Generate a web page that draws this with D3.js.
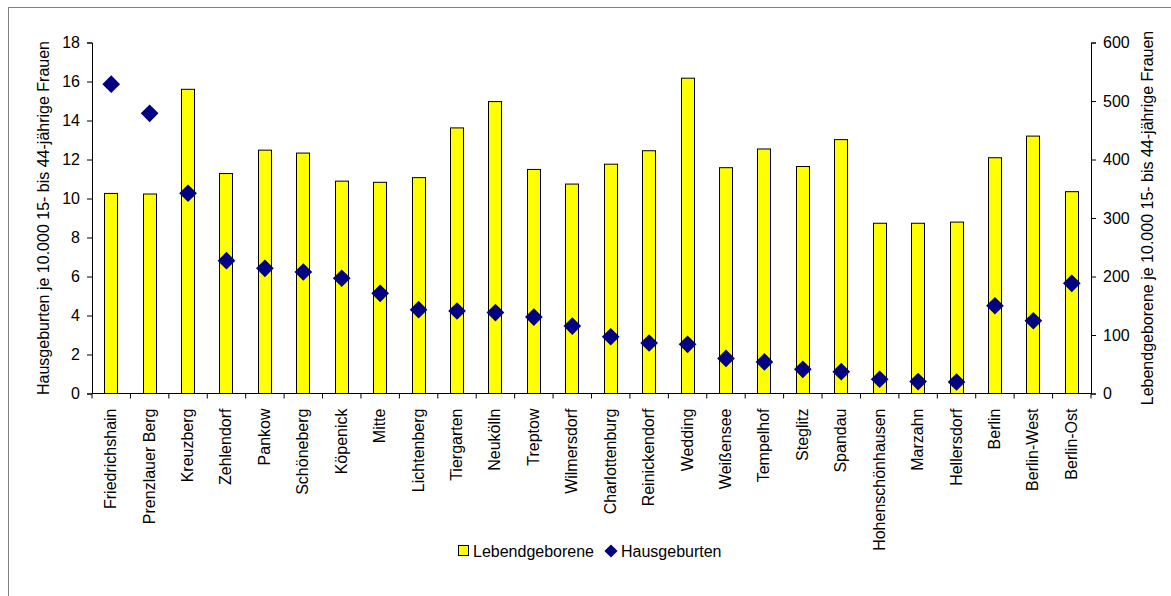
<!DOCTYPE html>
<html><head><meta charset="utf-8">
<script src="https://cdn.jsdelivr.net/npm/d3@7"></script>
<style>
html,body{margin:0;padding:0;background:#fff;}
svg{display:block;font-family:"Liberation Sans",Arial,sans-serif;}
</style></head>
<body><svg id="c" width="1171" height="596"></svg>
<script>
const categories = ["Friedrichshain","Prenzlauer Berg","Kreuzberg","Zehlendorf","Pankow","Schöneberg","Köpenick","Mitte","Lichtenberg","Tiergarten","Neukölln","Treptow","Wilmersdorf","Charlottenburg","Reinickendorf","Wedding","Weißensee","Tempelhof","Steglitz","Spandau","Hohenschönhausen","Marzahn","Hellersdorf","Berlin","Berlin-West","Berlin-Ost"];
const lebendgeborene = [342,341,520,376,416,411,363,361,369,454,499,383,358,392,415,539,386,418,388,434,291,291,293,403,440,345];
const hausgeburten = [15.86,14.37,10.27,6.81,6.42,6.23,5.91,5.14,4.30,4.23,4.15,3.92,3.46,2.91,2.59,2.52,1.80,1.62,1.24,1.12,0.73,0.61,0.59,4.50,3.73,5.65];
const leftTicks = [0,2,4,6,8,10,12,14,16,18];
const rightTicks = [0,100,200,300,400,500,600];
const seriesNames = ["Lebendgeborene","Hausgeburten"];
const leftTitle = "Hausgeburten je 10.000 15- bis 44-jährige Frauen";
const rightTitle = "Lebendgeborene je 10.000 15- bis 44-jährige Frauen";

const svg = d3.select("#c");
const FS = 16;
const L = 92, R = 1091, T = 42.5, B = 393.5;

// outer frame
svg.append("rect").attr("x",8.5).attr("y",7.5).attr("width",1200).attr("height",620)
  .attr("fill","none").attr("stroke","#808080").attr("stroke-width",1);

const x = d3.scaleBand().domain(categories).range([L,R]).padding(0);
const yL = d3.scaleLinear().domain([0,18]).range([B,T]);
const yR = d3.scaleLinear().domain([0,600]).range([B,T]);

// bars
const bw = 14;
svg.append("g").selectAll("rect").data(categories).join("rect")
  .attr("x",(d)=>Math.round(x(d)+x.bandwidth()/2-bw/2)+0.5)
  .attr("y",(d,i)=>yR(lebendgeborene[i]))
  .attr("width",bw-1)
  .attr("height",(d,i)=>B-yR(lebendgeborene[i]))
  .attr("fill","#ffff00").attr("stroke","#000").attr("stroke-width",1);

// left axis
const gl = svg.append("g").attr("transform",`translate(${L},0)`)
  .call(d3.axisLeft(yL).tickValues(leftTicks).tickSize(5).tickPadding(7));
// right axis
const gr = svg.append("g").attr("transform",`translate(${R},0)`)
  .call(d3.axisRight(yR).tickValues(rightTicks).tickSize(5).tickPadding(7));
// x axis
const gx = svg.append("g").attr("transform",`translate(0,${B})`);
gx.append("line").attr("x1",L).attr("x2",R).attr("y1",0).attr("y2",0).attr("stroke","#000");
gx.selectAll("line.t").data(d3.range(categories.length+1)).join("line").attr("class","t")
  .attr("x1",i=>L+i*x.step()).attr("x2",i=>L+i*x.step()).attr("y1",0).attr("y2",5).attr("stroke","#000");
gx.selectAll("text").data(categories).join("text")
  .attr("transform",d=>`translate(${x(d)+x.bandwidth()/2+5},${15}) rotate(-90)`)
  .attr("text-anchor","end").attr("font-size",FS).attr("fill","#000").text(d=>d);

[gl,gr].forEach(g=>{
  g.selectAll(".domain").attr("stroke","#000");
  g.selectAll(".tick line").attr("stroke","#000");
  g.selectAll(".tick text").attr("font-size",FS).attr("fill","#000").attr("font-family","Liberation Sans, Arial, sans-serif");
});

// diamonds
const dsym = d3.symbol().type(d3.symbolDiamond2).size(200);
svg.append("g").selectAll("path").data(categories).join("path")
  .attr("transform",(d,i)=>`translate(${x(d)+x.bandwidth()/2},${yL(hausgeburten[i])})`)
  .attr("d",dsym).attr("fill","#000080");

// axis titles
svg.append("text").attr("transform",`translate(49,${(T+B)/2}) rotate(-90)`)
  .attr("text-anchor","middle").attr("font-size",FS).text(leftTitle);
svg.append("text").attr("transform",`translate(1153,${(T+B)/2}) rotate(-90)`)
  .attr("text-anchor","middle").attr("font-size",FS).text(rightTitle);

// legend
const lg = svg.append("g");
lg.append("rect").attr("x",458.5).attr("y",545.5).attr("width",10).attr("height",10)
  .attr("fill","#ffff00").attr("stroke","#000");
lg.append("text").attr("x",473).attr("y",556.5).attr("font-size",FS).text(seriesNames[0]);
lg.append("path").attr("transform","translate(611,551)").attr("d",d3.symbol().type(d3.symbolDiamond2).size(110)).attr("fill","#000080");
lg.append("text").attr("x",621).attr("y",556.5).attr("font-size",FS).text(seriesNames[1]);
</script></body></html>
